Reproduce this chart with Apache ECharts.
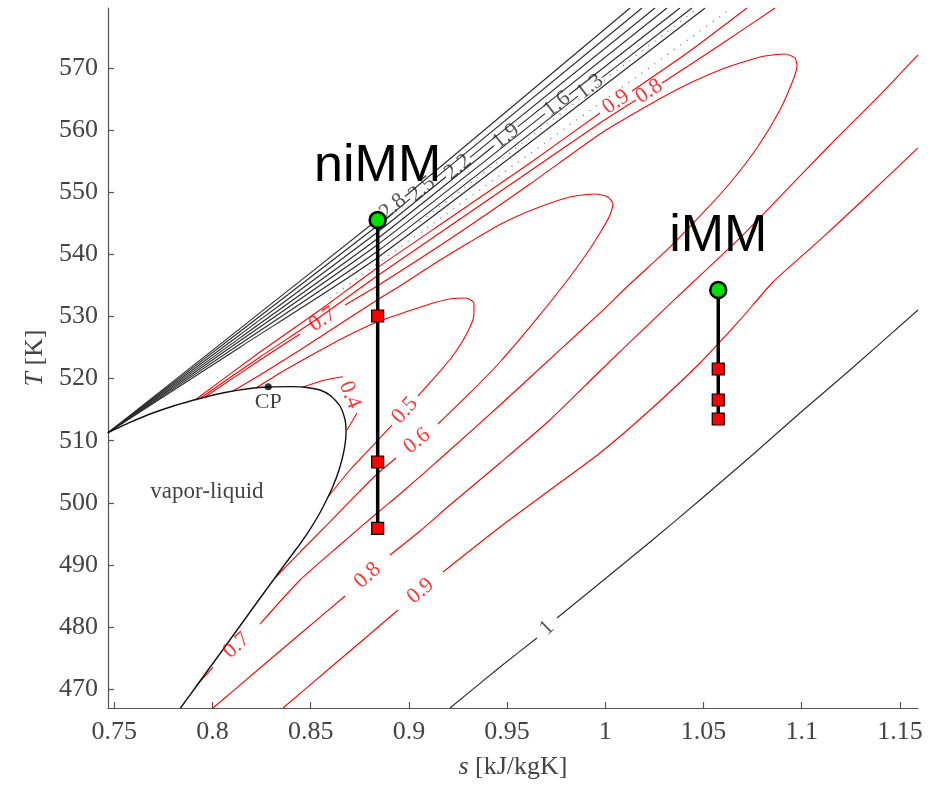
<!DOCTYPE html>
<html><head><meta charset="utf-8">
<script src="https://cdn.jsdelivr.net/npm/echarts@6/dist/echarts.min.js"></script>
<style>html,body{margin:0;padding:0;background:#fff}#c{width:948px;height:785px}</style>
</head><body><div id="c"></div>
<script>
// ---------- axes ----------
const xTicks = [0.75, 0.8, 0.85, 0.9, 0.95, 1, 1.05, 1.1, 1.15];
const yTicks = [470, 480, 490, 500, 510, 520, 530, 540, 550, 560, 570];

// ---------- vapor-liquid dome (s [kJ/kgK], T [K]) ----------
const dome = [[0.7468,511.29],[0.7580,512.94],[0.7682,514.30],[0.7809,515.67],[0.7936,516.80],[0.8064,517.77],[0.8191,518.41],[0.8283,518.65],[0.8395,518.72],[0.8461,518.65],[0.8547,518.17],[0.8603,517.20],[0.8649,515.59],[0.8675,513.34],[0.8680,511.40],[0.8670,508.50],[0.8644,505.28],[0.8614,502.71],[0.8573,499.97],[0.8535,497.71],[0.8484,495.13],[0.8423,492.39],[0.8362,489.82],[0.8306,487.40],[0.8239,484.50],[0.8173,481.60],[0.8103,478.54],[0.8037,475.64],[0.7970,472.74],[0.7904,469.84],[0.7837,466.94]];
const criticalPoint = [0.8284, 518.70];

// ---------- black contour lines (fan), each split where its label sits ----------
const fan28 = [[[0.7468,511.29],[0.8140,528.06],[0.8838,545.56],[0.8858,546.11]], [[0.8980,549.35],[1.0126,579.71]]];
const fan25 = [[[0.7468,511.29],[0.8140,527.60],[0.8838,544.59],[0.9006,548.96]], [[0.9128,552.15],[1.0187,579.71]]];
const fan22 = [[[0.7468,511.29],[0.8140,527.08],[0.8838,543.55],[0.9189,552.52]], [[0.9311,555.65],[1.0253,579.71]]];
const fan19 = [[[0.7468,511.29],[0.8140,526.57],[0.8838,542.50],[0.9433,557.51]], [[0.9555,560.59],[1.0314,579.71]]];
const fan16 = [[[0.7468,511.29],[0.8140,526.10],[0.8838,541.53],[0.9693,562.70]], [[0.9815,565.73],[1.0380,579.71]]];
const fan13 = [[[0.7468,511.29],[0.8140,525.58],[0.8838,540.48],[0.9861,565.52]], [[0.9983,568.50],[1.0441,579.71]]];
const fanExtra = [[[0.7468,511.29],[0.8140,525.07],[0.8838,539.44],[1.0508,579.71]]];

// dotted grey lines
const dotted1 = [[0.9057,545.29],[1.0472,579.71]];
const dotted2 = [[0.8598,532.99],[0.8838,538.47],[1.0645,579.71]];

// ---------- red contour lines ----------
const z09upper = [[[0.7911,516.56],[0.8242,524.29],[0.8547,531.06],[0.8838,537.83],[0.9209,545.88],[0.9617,554.74],[0.9973,562.80]], [[1.0136,566.34],[1.0431,572.79],[1.0721,579.71]]];
const z08upper = [[[0.7936,516.80],[0.8242,523.49],[0.8547,529.93],[0.8838,536.54],[0.9209,544.59],[0.9617,553.45],[0.9973,561.19],[1.0156,564.89]], [[1.0289,567.63],[1.0584,573.75],[1.0864,579.71]]];
const z07 = [
  [[0.7962,517.04],[0.8242,523.00],[0.8446,527.19]],
  [[0.8675,531.87],[0.8838,534.93],[0.9209,542.50],[0.9617,551.36],[0.9973,559.42],[1.0177,563.28],[1.0380,566.83],[1.0584,569.73],[1.0788,571.82],[1.0915,572.30],[1.0966,571.66],[1.0976,570.37],[1.0956,568.11],[1.0889,563.28],[1.0772,557.16],[1.0635,551.52],[1.0497,546.69],[1.0314,540.73],[1.0126,535.25],[0.9973,530.58],[0.9769,524.62],[0.9464,515.75],[0.9209,508.50],[0.8955,501.42],[0.8838,498.36],[0.8649,493.20],[0.8446,487.56],[0.8242,480.47]],
  [[0.8003,473.54],[0.7916,470.48]]
];
const z06 = [
  [[0.8104,518.01],[0.8242,520.59],[0.8446,524.62],[0.8649,528.80],[0.8838,532.67],[0.8955,534.93],[0.9143,538.79],[0.9311,542.02],[0.9479,545.08],[0.9652,547.49],[0.9820,549.27],[0.9948,549.75],[1.0014,549.27],[1.0039,548.14],[1.0024,546.37],[0.9973,543.47],[0.9897,539.76],[0.9800,535.57],[0.9642,529.29],[0.9464,522.68],[0.9311,517.69],[0.9148,512.69]],
  [[0.8934,507.22],[0.8838,504.64],[0.8751,501.90],[0.8598,496.91],[0.8446,492.07],[0.8318,487.88]]
];
const z05 = [
  [[0.8221,518.49],[0.8344,520.91],[0.8496,523.65],[0.8675,526.71],[0.8838,529.13],[0.8955,530.42],[0.9107,532.03],[0.9209,532.83],[0.9291,532.99],[0.9331,532.19],[0.9331,530.25],[0.9291,527.03],[0.9219,523.49],[0.9133,520.27],[0.9046,517.20]],
  [[0.8914,512.53],[0.8838,509.95],[0.8700,505.28],[0.8588,500.93]]
];
const z04 = [[[0.8461,518.65],[0.8573,519.78],[0.8664,520.31]], [[0.8736,514.47],[0.8685,511.73]]];
const z08lower = [[[0.8003,466.94],[0.8242,473.38],[0.8446,478.86],[0.8675,484.98]], [[0.8904,491.59],[0.9057,495.46],[0.9209,499.64],[0.9464,506.41],[0.9718,513.34],[0.9973,521.23],[1.0228,528.97],[1.0447,535.57],[1.0686,542.66],[1.0874,548.78],[1.1144,557.64],[1.1399,565.70],[1.1592,572.14]]];
const z09lower = [[[0.8359,466.94],[0.8598,473.38],[0.8802,478.86],[0.8945,482.73]], [[0.9174,488.85],[0.9464,496.10],[0.9718,502.06],[0.9973,508.02],[1.0228,514.95],[1.0482,522.52],[1.0686,529.45],[1.0854,535.57],[1.1093,542.34],[1.1312,548.78],[1.1592,557.16]]];
const z10 = [[[0.9209,466.94],[0.9464,473.54],[0.9652,478.22]], [[0.9754,481.44],[0.9973,487.08],[1.0228,493.68],[1.0482,500.45],[1.0737,507.38],[1.0991,514.47],[1.1246,521.39],[1.1592,531.06]]];

// ---------- expansion processes ----------
const niMM_s = 0.8841;
const niMM_T = [545.56, 530.09, 506.57, 495.89];
const iMM_s = 1.0575;
const iMM_T = [534.28, 521.55, 516.56, 513.50];

// ---------- annotations ----------
const textNotes = [{text: 'vapor-liquid', at: [0.7972, 501.7]}];

// ================= build =================
const RED = '#ff0000', BLK = '#2a2a2a';
const SERIF = "'Liberation Serif', 'DejaVu Serif', serif";
const contours = [
  {levels: ['2.8'], segs: fan28, color: BLK}, {levels: ['2.5'], segs: fan25, color: BLK},
  {levels: ['2.2'], segs: fan22, color: BLK}, {levels: ['1.9'], segs: fan19, color: BLK},
  {levels: ['1.6'], segs: fan16, color: BLK}, {levels: ['1.3'], segs: fan13, color: BLK},
  {levels: [], segs: fanExtra, color: BLK},
  {levels: ['0.9'], segs: z09upper, color: RED}, {levels: ['0.8'], segs: z08upper, color: RED},
  {levels: ['0.7', '0.7'], segs: z07, color: RED}, {levels: ['0.6'], segs: z06, color: RED},
  {levels: ['0.5'], segs: z05, color: RED}, {levels: ['0.4'], segs: z04, color: RED},
  {levels: ['0.8'], segs: z08lower, color: RED}, {levels: ['0.9'], segs: z09lower, color: RED},
  {levels: ['1'], segs: z10, color: BLK}
];

const series = [];
const labelDefs = [];
contours.forEach(c => {
  c.segs.forEach(seg => series.push({
    type: 'line', data: seg, showSymbol: false, silent: true, smooth: 0.2,
    lineStyle: {color: c.color, width: 1.1}, z: 2, animation: false
  }));
  for (let k = 0; k < c.segs.length - 1; k++) {
    const a = c.segs[k][c.segs[k].length - 1], b = c.segs[k + 1][0];
    labelDefs.push({a, b, text: c.levels[k], color: c.color});
  }
});
[dotted1, dotted2].forEach(d => series.push({
  type: 'line', data: d, showSymbol: false, silent: true,
  lineStyle: {color: '#777', width: 1.3, type: [1, 7]}, z: 2, animation: false
}));
series.push({
  type: 'line', data: dome, showSymbol: false, silent: true, smooth: 0.2,
  lineStyle: {color: '#111', width: 1.4}, z: 3, animation: false
});
series.push({
  type: 'scatter', data: [criticalPoint], symbolSize: 7, itemStyle: {color: '#000'}, z: 4,
  label: {show: true, position: 'bottom', distance: 1, formatter: 'CP', fontFamily: SERIF, fontSize: 22, color: '#111'}
});
series.push({
  type: 'scatter', data: textNotes.map(n => ({value: n.at, name: n.text})), symbolSize: 1,
  itemStyle: {color: 'rgba(0,0,0,0)'}, z: 4,
  label: {show: true, position: 'inside', formatter: p => p.name, fontFamily: SERIF, fontSize: 23, color: '#111'}
});
series.push({
  id: 'contourLabels', type: 'scatter', data: [], symbolSize: 1, itemStyle: {color: 'rgba(0,0,0,0)'}, z: 5,
  label: {show: true, position: 'inside', formatter: p => p.name, fontFamily: SERIF, fontSize: 22}
});

function processSeries(name, s, temps) {
  return {
    type: 'line', name: name, z: 10, animation: false, showAllSymbol: true,
    lineStyle: {color: '#000', width: 3.5},
    data: temps.map((t, i) => i === 0 ? {
      value: [s, t], symbol: 'circle', symbolSize: 16,
      itemStyle: {color: '#00e000', borderColor: '#000', borderWidth: 2.5},
      label: {show: true, position: 'top', distance: 18, formatter: name,
              fontFamily: "'Liberation Sans', Arial, sans-serif", fontSize: 52, lineHeight: 52, color: '#000'}
    } : {
      value: [s, t], symbol: 'rect', symbolSize: 12,
      itemStyle: {color: '#ff0000', borderColor: '#000', borderWidth: 1.2}
    })
  };
}
series.push(processSeries('niMM', niMM_s, niMM_T));
series.push(processSeries('iMM', iMM_s, iMM_T));

const axisCommon = {
  type: 'value', splitLine: {show: false},
  axisLine: {show: true, onZero: false, lineStyle: {color: '#555', width: 1.2}},
  axisTick: {show: true, inside: true, length: 6, lineStyle: {color: '#555', width: 1.2}},
  nameLocation: 'middle'
};
const option = {
  backgroundColor: '#fff',
  animation: false,
  grid: {left: 108, right: 30, top: 8, bottom: 77, containLabel: false},
  xAxis: Object.assign({}, axisCommon, {
    min: 0.7468, max: 1.1592,
    axisTick: Object.assign({}, axisCommon.axisTick, {customValues: xTicks}),
    axisLabel: {customValues: xTicks, fontFamily: SERIF, fontSize: 26, color: '#444', margin: 11,
                formatter: v => String(+v.toFixed(2))},
    name: '{i|s} [kJ/kgK]', nameGap: 46,
    nameTextStyle: {fontFamily: SERIF, fontSize: 26, color: '#444',
      rich: {i: {fontStyle: 'italic', fontFamily: SERIF, fontSize: 26, color: '#444'}}}
  }),
  yAxis: Object.assign({}, axisCommon, {
    min: 466.94, max: 579.71,
    axisTick: Object.assign({}, axisCommon.axisTick, {customValues: yTicks}),
    axisLabel: {customValues: yTicks, fontFamily: SERIF, fontSize: 26, color: '#444', margin: 10},
    name: '{i|T} [K]', nameGap: 58,
    nameTextStyle: {fontFamily: SERIF, fontSize: 26, color: '#444',
      rich: {i: {fontStyle: 'italic', fontFamily: SERIF, fontSize: 26, color: '#444'}}}
  }),
  series: series
};

const chart = echarts.init(document.getElementById('c'), null, {renderer: 'canvas'});
chart.setOption(option);

function angleDeg(p1, p2) {
  let a = Math.atan2(-(p2[1] - p1[1]), p2[0] - p1[0]) * 180 / Math.PI;
  if (a > 90) a -= 180;
  if (a < -90) a += 180;
  return a;
}
const labelData = labelDefs.map(d => {
  const p1 = chart.convertToPixel({gridIndex: 0}, d.a);
  const p2 = chart.convertToPixel({gridIndex: 0}, d.b);
  return {
    name: d.text,
    value: [(d.a[0] + d.b[0]) / 2, (d.a[1] + d.b[1]) / 2],
    label: {rotate: angleDeg(p1, p2), color: d.color}
  };
});
chart.setOption({series: [{id: 'contourLabels', data: labelData}]});
</script></body></html>
